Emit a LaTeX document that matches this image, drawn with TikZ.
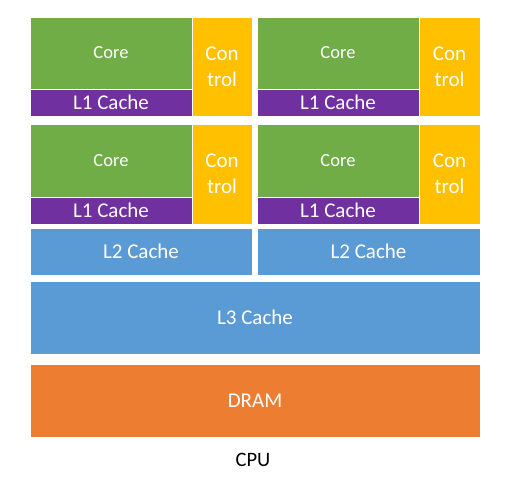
\documentclass[tikz,border=0pt]{standalone}
\usepackage{fontspec}
\setmainfont{Carlito}
\definecolor{cgreen}{HTML}{70AD47}
\definecolor{cyellow}{HTML}{FFC000}
\definecolor{cpurple}{HTML}{7030A0}
\definecolor{cblue}{HTML}{5B9BD5}
\definecolor{corange}{HTML}{ED7D31}
\tikzset{
  blk/.style={rectangle, anchor=north west, inner sep=0pt, outer sep=0pt, text=white, draw=white, line width=0.4pt, font=\fontsize{21}{26}\selectfont, align=center},
  corebox/.style={blk, fill=cgreen, minimum width=162pt, minimum height=72pt, font=\fontsize{18.5}{22}\selectfont},
  lonebox/.style={blk, fill=cpurple, minimum width=162pt, minimum height=27pt},
  ctlbox/.style={blk, fill=cyellow, minimum width=61pt, minimum height=99pt},
  ltwobox/.style={blk, fill=cblue, minimum width=223pt, minimum height=47pt},
  widebox/.style={blk, minimum width=450pt, minimum height=73pt},
}
\begin{document}
\begin{tikzpicture}[x=1pt,y=-1pt]
\useasboundingbox (0,0) rectangle (505,480);
% row 1
\node[corebox] (core1) at (30,17) {Core};
\node[lonebox] (lone1) at (30,89) {L1 Cache};
\node[ctlbox, minimum width=60pt] (ctl1) at (192,17) {Con\\trol};
\node[corebox, minimum width=162pt] (core2) at (257,17) {Core};
\node[lonebox] (lone2) at (257,89) {L1 Cache};
\node[ctlbox] (ctl2) at (419,17) {Con\\trol};
% row 2
\node[corebox, minimum height=73pt] (core3) at (30,124) {Core};
\node[lonebox] (lone3) at (30,197) {L1 Cache};
\node[ctlbox, minimum width=60pt, minimum height=100pt] (ctl3) at (192,124) {Con\\trol};
\node[corebox, minimum height=73pt] (core4) at (257,124) {Core};
\node[lonebox] (lone4) at (257,197) {L1 Cache};
\node[ctlbox, minimum height=100pt] (ctl4) at (419,124) {Con\\trol};
% L2
\node[ltwobox, minimum width=222pt] (ltwoa) at (30,228) {L2 Cache};
\node[ltwobox] (ltwob) at (257,228) {L2 Cache};
% L3
\node[widebox, fill=cblue] (lthree) at (30,281) {L3 Cache};
% DRAM
\node[widebox, fill=corange] (dram) at (30,364) {DRAM};
% label
\node[font=\fontsize{20.5}{24}\selectfont, text=black, inner sep=0pt] (cpu) at (253,460) {CPU};
\end{tikzpicture}
\end{document}
